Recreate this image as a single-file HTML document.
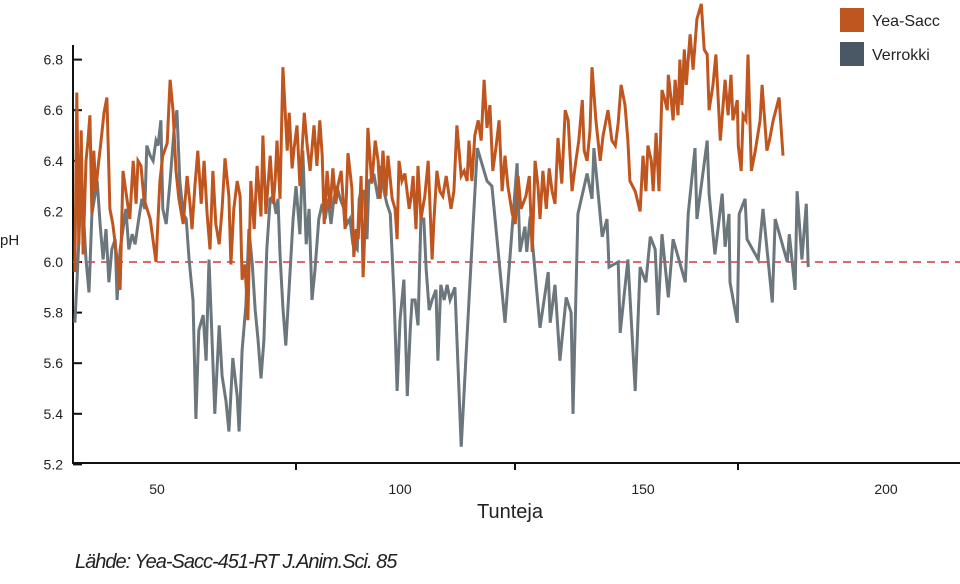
<!DOCTYPE html>
<html><head><meta charset="utf-8"><style>
body{margin:0;background:#fff;width:960px;height:584px;overflow:hidden;font-family:"Liberation Sans",sans-serif}
svg{display:block}
</style></head><body>
<svg id="chart" width="960" height="584" xmlns="http://www.w3.org/2000/svg">
<g id="axes"></g>
<g id="series"></g>
<g>
<rect x="840" y="8" width="24" height="24" fill="#c0561f"/>
<text x="872" y="26" font-size="16" fill="#222">Yea-Sacc</text>
<rect x="840" y="42" width="24" height="24" fill="#4a5866"/>
<text x="872" y="60" font-size="16" fill="#222">Verrokki</text>
</g>
<text x="0" y="245" font-size="15" fill="#222">pH</text>
<text x="510" y="518" font-size="20" text-anchor="middle" fill="#222">Tunteja</text>
<text x="75" y="568" font-size="20" font-style="italic" letter-spacing="-1" fill="#222">Lähde: Yea-Sacc-451-RT J.Anim.Sci. 85</text>
</svg>
<script>
const yTicks=[6.8,6.6,6.4,6.2,6.0,5.8,5.6,5.4,5.2];
const xTicks=[50,100,150,200];
const threshold=6.0;
const yeaHours=[33.1,33.5,33.9,34.4,34.8,35.4,35.8,36.2,36.6,37.0,37.4,37.9,38.5,39.1,39.7,40.3,40.9,41.8,42.4,43.0,43.8,44.4,45.1,45.7,46.1,46.7,47.3,48.6,49.8,50.6,51.2,52.1,52.7,53.3,53.9,54.5,55.4,56.2,56.8,57.2,57.8,58.4,59.1,59.7,60.3,60.9,61.5,62.1,62.8,63.4,64.0,64.8,65.2,65.8,66.5,67.1,67.5,68.1,68.7,69.3,70.0,70.6,71.4,71.8,72.4,73.3,73.9,74.3,74.7,75.3,75.9,76.8,77.2,77.8,78.2,78.8,79.4,80.3,80.9,81.5,82.3,82.9,83.5,84.0,84.4,85.0,85.6,86.2,86.8,87.2,87.9,88.7,89.3,90.1,90.5,91.0,91.4,92.0,92.4,93.0,93.4,94.2,94.9,95.5,95.9,96.5,97.1,97.5,98.4,99.0,99.4,99.8,100.4,101.0,101.9,102.3,102.7,103.3,103.7,104.3,105.1,105.8,106.6,107.0,107.6,108.2,108.8,109.5,110.5,111.1,111.7,112.6,113.2,113.8,114.2,114.8,115.4,116.1,116.7,117.3,117.9,118.5,119.1,119.8,120.4,121.0,121.6,122.2,123.1,123.7,124.3,124.9,125.3,125.9,126.6,127.2,127.8,128.4,128.8,129.4,130.1,130.7,131.3,131.9,132.5,133.3,134.0,134.6,135.4,136.2,136.8,137.5,137.9,138.5,139.1,139.5,140.3,141.2,141.8,142.8,143.6,144.3,144.9,145.5,146.3,146.9,147.3,148.4,149.4,150.0,150.6,151.0,151.7,152.1,152.7,153.3,153.9,154.5,155.0,155.2,155.8,156.2,156.6,157.2,157.6,158.0,158.5,158.9,159.3,159.7,160.3,161.1,162.0,162.6,163.2,163.6,164.4,165.0,165.9,166.9,167.5,168.1,168.5,169.4,169.6,170.2,170.6,171.2,171.6,172.3,173.1,174.1,174.5,175.5,176.0,176.8,178.0,178.8];
const yeaPH=[5.96,6.67,6.07,6.52,6.03,6.40,6.48,6.58,6.19,6.44,6.28,6.38,6.48,6.59,6.65,6.21,6.15,6.01,5.89,6.36,6.25,6.17,6.40,6.23,6.40,6.38,6.25,6.17,6.00,6.32,6.42,6.47,6.72,6.60,6.36,6.25,6.15,6.34,6.23,6.13,6.30,6.44,6.23,6.40,6.19,6.05,6.36,6.15,6.07,6.21,6.41,6.26,5.99,6.21,6.32,6.26,5.93,5.99,5.77,6.32,6.13,6.38,6.18,6.50,6.19,6.42,6.23,6.32,6.48,6.25,6.77,6.44,6.59,6.37,6.45,6.54,6.30,6.59,6.46,6.36,6.54,6.38,6.56,6.42,6.15,6.36,6.21,6.37,6.23,6.30,6.36,6.13,6.43,6.29,6.02,6.13,6.09,6.34,5.94,6.25,6.53,6.31,6.48,6.40,6.25,6.44,6.26,6.42,6.25,6.21,6.09,6.40,6.32,6.35,6.21,6.26,6.34,6.13,6.38,6.17,6.26,6.40,6.01,6.17,6.36,6.28,6.26,6.34,6.21,6.28,6.54,6.34,6.36,6.32,6.48,6.32,6.50,6.56,6.48,6.72,6.53,6.62,6.36,6.46,6.56,6.28,6.42,6.30,6.19,6.15,6.34,6.21,6.23,6.26,6.34,6.04,6.40,6.30,6.17,6.36,6.21,6.37,6.28,6.23,6.49,6.31,6.60,6.56,6.28,6.40,6.48,6.64,6.44,6.40,6.52,6.77,6.56,6.40,6.50,6.60,6.48,6.46,6.55,6.70,6.62,6.48,6.32,6.28,6.20,6.42,6.28,6.46,6.40,6.28,6.51,6.28,6.68,6.64,6.60,6.74,6.64,6.56,6.72,6.58,6.80,6.62,6.84,6.70,6.80,6.90,6.76,6.96,7.02,6.84,6.82,6.60,6.70,6.82,6.48,6.72,6.58,6.74,6.56,6.64,6.46,6.36,6.58,6.56,6.82,6.36,6.44,6.56,6.70,6.44,6.48,6.56,6.65,6.42];
const verHours=[33.1,33.5,33.9,34.4,34.8,35.4,36.0,36.6,37.2,37.7,38.3,38.9,39.5,40.1,40.7,41.4,41.8,42.4,43.0,43.6,44.2,44.9,45.5,46.1,46.9,47.5,47.9,48.6,49.2,49.8,50.2,50.8,51.2,51.9,52.7,53.5,54.1,54.7,55.4,56.0,56.6,57.4,58.0,58.6,59.5,60.1,60.7,61.3,61.9,62.8,63.4,64.2,64.8,65.6,66.5,66.9,67.5,68.3,68.9,69.6,70.2,70.8,71.4,72.0,72.6,73.3,73.9,74.5,74.9,75.3,75.9,76.5,77.4,78.0,78.6,79.4,80.0,80.7,81.3,81.9,82.5,83.3,84.0,84.6,85.2,85.8,86.4,87.0,87.7,88.5,89.1,89.7,90.3,91.2,91.6,92.0,92.6,93.2,93.6,94.7,95.5,96.1,96.7,97.3,98.0,98.8,99.4,100.0,100.8,101.5,102.1,102.5,103.1,103.7,104.3,104.9,105.4,106.0,106.6,107.4,107.8,108.4,109.1,109.7,110.3,111.3,112.6,114.2,115.9,117.9,118.9,121.6,124.1,124.7,125.7,126.1,126.8,128.8,130.5,130.9,131.9,132.9,134.2,135.2,135.6,136.6,138.5,139.5,139.9,141.6,142.6,143.0,144.9,145.3,146.9,148.4,149.4,150.6,151.5,152.5,153.1,153.9,155.2,156.2,158.7,159.3,160.7,161.1,163.2,163.6,164.8,166.3,166.9,167.7,167.9,169.4,169.8,171.0,171.4,173.7,174.7,176.6,177.2,179.7,180.1,181.3,181.7,182.7,183.6,184.0];
const verPH=[5.76,5.91,6.08,6.32,6.21,6.01,5.88,6.19,6.26,6.32,6.15,6.01,6.13,5.92,6.05,6.09,5.85,6.05,6.13,6.21,6.05,6.11,6.07,6.15,6.25,6.21,6.46,6.42,6.40,6.48,6.46,6.56,6.21,6.15,6.32,6.52,6.60,6.32,6.19,6.17,6.01,5.85,5.38,5.73,5.79,5.61,6.01,5.71,5.40,5.75,5.55,5.45,5.33,5.62,5.47,5.33,5.65,5.83,6.13,5.99,5.81,5.69,5.54,5.69,6.05,6.25,6.26,6.19,6.25,6.03,5.82,5.67,5.97,6.17,6.30,6.11,6.44,6.07,6.21,5.85,5.97,6.17,6.23,6.17,6.25,6.15,6.25,6.30,6.25,6.21,6.15,6.17,6.07,6.05,6.25,6.28,6.28,6.09,6.32,6.34,6.25,6.38,6.28,6.23,6.19,5.85,5.49,5.77,5.93,5.47,5.73,5.85,5.85,5.75,6.17,6.17,5.97,5.81,5.85,5.89,5.61,5.91,5.85,5.91,5.85,5.90,5.27,5.85,6.45,6.32,6.30,5.76,6.39,6.04,6.14,6.04,6.18,5.74,5.96,5.76,5.91,5.61,5.86,5.80,5.40,6.19,6.35,6.25,6.45,6.10,6.17,5.98,6.00,5.72,6.01,5.49,5.98,5.92,6.10,6.05,5.79,6.11,5.86,6.09,5.92,6.19,6.45,6.17,6.48,6.27,6.03,6.27,6.06,6.19,5.92,5.76,6.19,6.25,6.09,6.01,6.21,5.84,6.17,6.00,6.11,5.89,6.28,6.01,6.23,5.98];

const NS='http://www.w3.org/2000/svg';
const xS=v=>157+(v-50)*4.86;
const yS=v=>262-(v-6)*253;
const axes=document.getElementById('axes');
const series=document.getElementById('series');
function mk(tag,attrs,parent){const e=document.createElementNS(NS,tag);for(const k in attrs)e.setAttribute(k,attrs[k]);parent.appendChild(e);return e;}

let ya=mk('line',{x1:73,y1:45,x2:73,y2:464,stroke:'#111','stroke-width':2},axes);


let xa=mk('line',{x1:72,y1:463,x2:960,y2:463,stroke:'#111','stroke-width':2},axes);


yTicks.forEach(t=>{
  const y=yS(t);
  const tk=mk('line',{x1:73,y1:y,x2:82,y2:y,stroke:'#111','stroke-width':2},axes);
  
  
  const lb=mk('text',{x:63,y:y+5,'font-size':14,'text-anchor':'end',fill:'#222'},axes);
  lb.textContent=t.toFixed(1);
  
  
});
xTicks.forEach(t=>{
  const lb=mk('text',{x:xS(t),y:494,'font-size':14,'text-anchor':'middle',fill:'#222'},axes);
  lb.textContent=t;
  
  
});
[296,515,738].forEach(x=>{
  const tk=mk('line',{x1:x,y1:463,x2:x,y2:470,stroke:'#111','stroke-width':2},axes);
  
  
});
const th=mk('line',{x1:73,y1:yS(threshold),x2:960,y2:yS(threshold),stroke:'#d9343a','stroke-width':1.5,'stroke-dasharray':'8,6'},series);


function line(h,v,color,name){
  const d=h.map((x,i)=>(i?'L':'M')+xS(x).toFixed(1)+','+yS(v[i]).toFixed(1)).join('');
  const p=mk('path',{d:d,fill:'none',stroke:color,'stroke-width':3,'stroke-linejoin':'miter'},series);
  
  
}
line(verHours,verPH,'#6b767d','verrokki-line');
line(yeaHours,yeaPH,'#c0561f','yea-sacc-line');
</script>
</body></html>
